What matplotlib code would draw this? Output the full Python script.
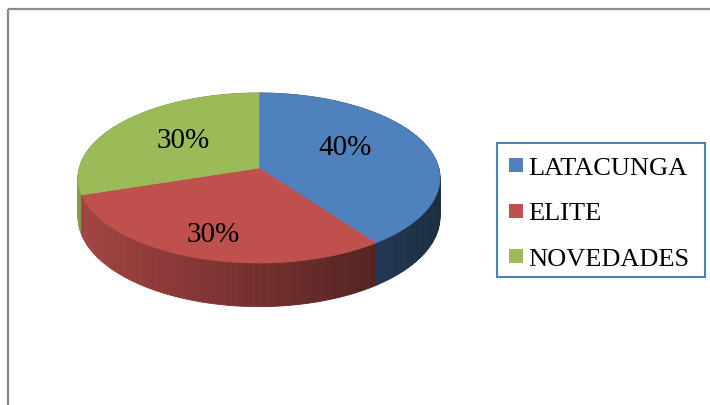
import numpy as np
import matplotlib.pyplot as plt
from matplotlib.patches import Polygon, Rectangle

etiquetas = ['LATACUNGA', 'ELITE', 'NOVEDADES']
valores = [40, 30, 30]
colores = ['#4F81BD', '#C0504D', '#9BBB59']
textos = ['40%', '30%', '30%']

# proyeccion en perspectiva del disco (pixeles)
cx, cy = 259, 168
A, q, c = 179.7, 64.06, -0.1176
prof = 38.5


def proyectar(phi, abajo=0.0):
    # phi: angulo horario desde el punto mas lejano
    x, y = np.sin(phi), -np.cos(phi)
    den = 1 + c * y
    return cx + A * x / den, (cy + q * y) / den + abajo / den


def sombra(color, x):
    r, g, bl = [int(color[i:i + 2], 16) / 255 for i in (1, 3, 5)]
    f = 0.85 - 0.5 * (x - 78) / 362
    return (r * f, g * f, bl * f)


fig = plt.figure(figsize=(7.1, 4.05), dpi=100)
ax = fig.add_axes([0, 0, 1, 1])
ax.set_xlim(0, 710)
ax.set_ylim(405, 0)
ax.axis('off')

# marco exterior
ax.add_patch(Rectangle((8, 9), 720, 420, fill=False, ec='#8a8a8a', lw=1.6))

total = sum(valores)
angulos = []
ini = 0.0
for v in valores:
    fin = ini + 2 * np.pi * v / total
    angulos.append((ini, fin))
    ini = fin

# costado del pastel: franjas ordenadas de atras hacia adelante
franjas = []
for (t1, t2), col in zip(angulos, colores):
    ts = np.linspace(t1, t2, 90)
    for u, w in zip(ts[:-1], ts[1:]):
        franjas.append((-np.cos((u + w) / 2), u, w, col))
franjas.sort(key=lambda f: f[0])
for _, u, w, col in franjas:
    x1, y1 = proyectar(u)
    x2, y2 = proyectar(w)
    x3, y3 = proyectar(w, prof)
    x4, y4 = proyectar(u, prof)
    tono = sombra(col, (x1 + x2) / 2)
    ax.add_patch(Polygon([(x1, y1), (x2, y2), (x3, y3), (x4, y4)],
                         closed=True, fc=tono, ec=tono, lw=0.6))

# caras superiores
for (t1, t2), col in zip(angulos, colores):
    ts = np.linspace(t1, t2, 120)
    pts = [(cx, cy)] + [proyectar(t) for t in ts]
    ax.add_patch(Polygon(pts, closed=True, fc=col, ec=col, lw=0.5))

fuente = 'Liberation Serif'
pos_txt = [(345, 155), (213, 242), (183, 148)]
for (x, y), t in zip(pos_txt, textos):
    ax.text(x, y, t, ha='center', va='baseline',
            fontsize=21, family=fuente, color='black')

# leyenda
ax.add_patch(Rectangle((497, 143), 208, 134, fill=False, ec='#4F81BD', lw=1.5))
for i, (lab, col) in enumerate(zip(etiquetas, colores)):
    y0 = 158 + i * 45.5
    ax.add_patch(Rectangle((509, y0), 14, 14, fc=col, ec='none'))
    ax.text(528, y0 + 17, lab, ha='left', va='baseline', fontsize=19,
            family=fuente, color='black')

fig.savefig('out.png', dpi=100)
